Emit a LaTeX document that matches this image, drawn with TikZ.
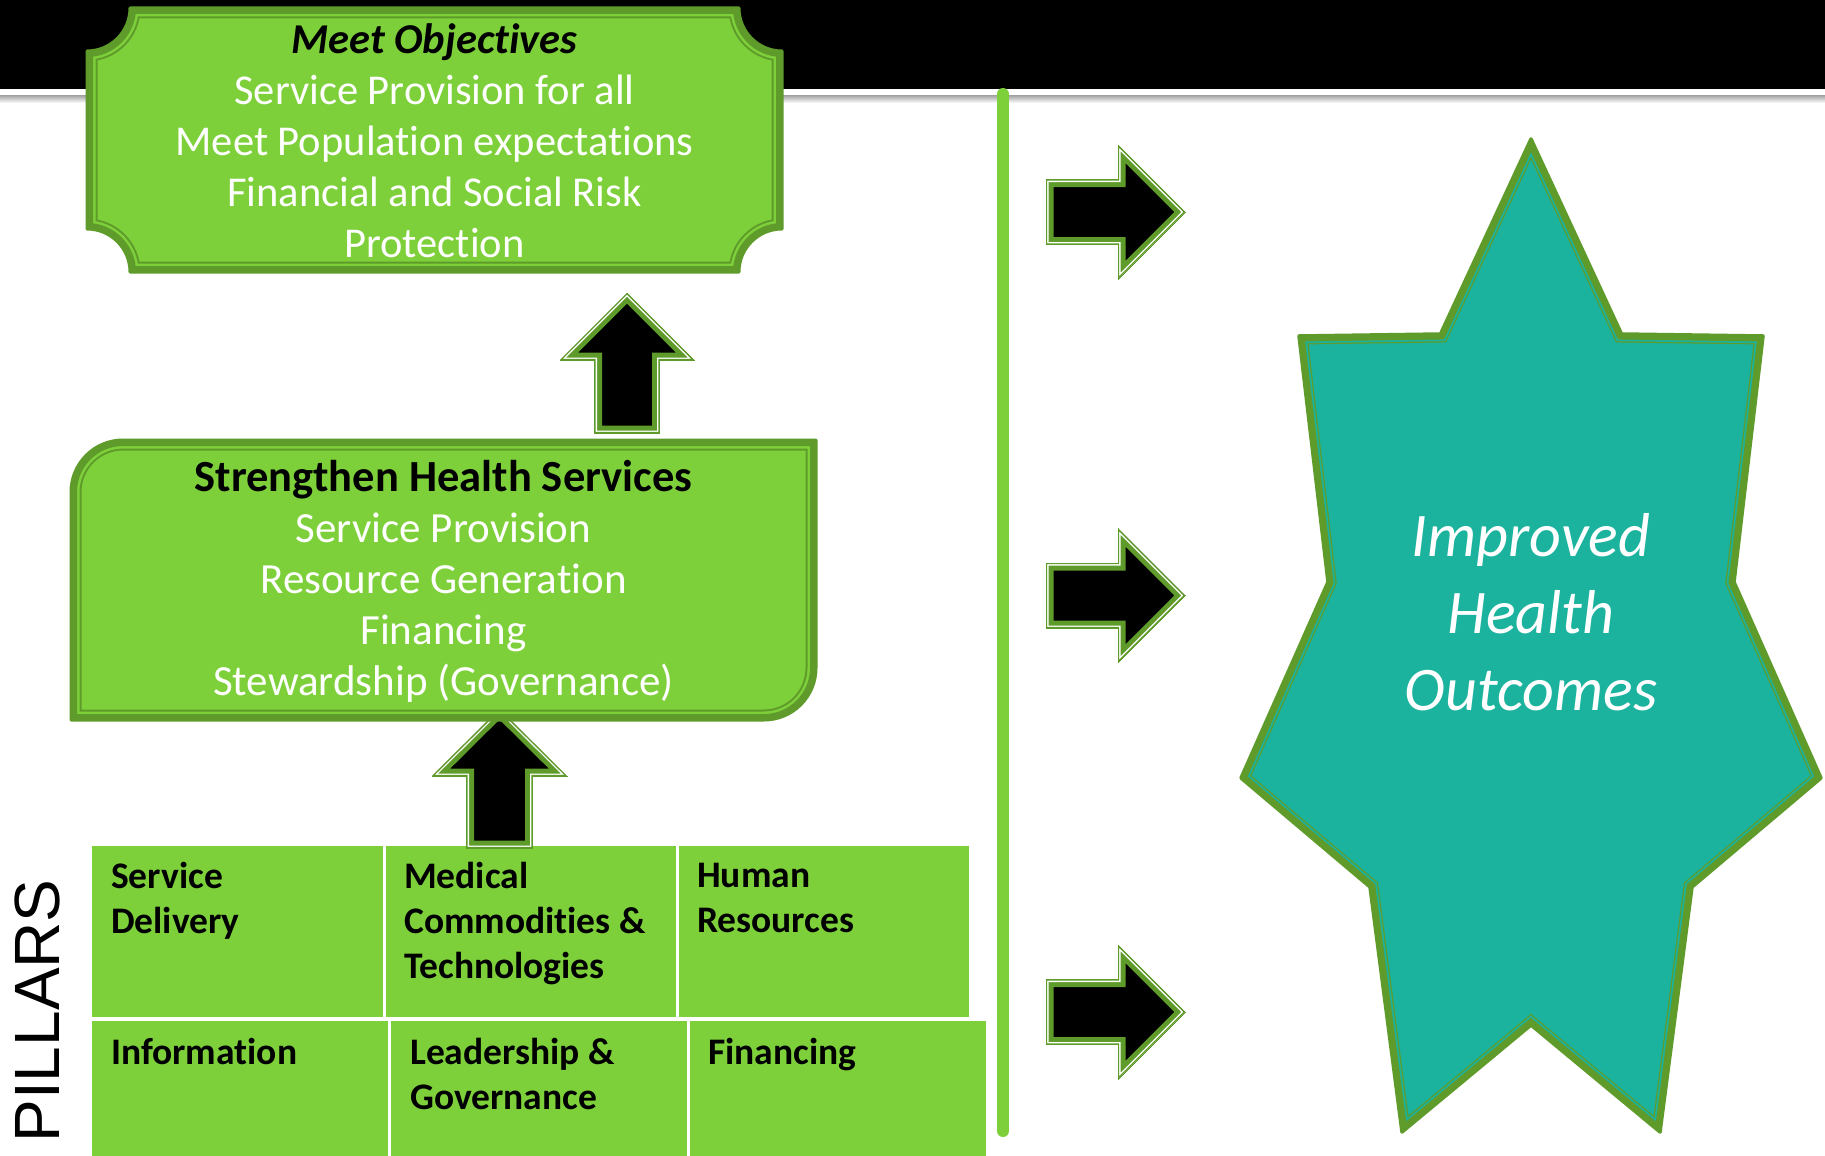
\documentclass[tikz,border=0pt]{standalone}
\usepackage{fontspec}
\setmainfont{Carlito}[Ligatures={NoCommon,NoContextual}]
\newfontfamily\pillarfont{Liberation Sans}
\definecolor{lg}{RGB}{126,208,59}
\definecolor{dg}{RGB}{95,155,42}
\definecolor{tealc}{RGB}{27,179,158}
\newcommand\layered[9]{%
  \fill[#1] #9;
  \begin{scope}
    \clip #9;
    \draw[#2,line width=#3,line join=miter] #9;
    \draw[#4,line width=#5,line join=miter] #9;
    \draw[#6,line width=#7,line join=miter] #9;
  \end{scope}
  \draw[#2,line width=#8,line join=round] #9;}
\newcommand\blockarrow[1]{\layered{black}{dg}{15pt}{white}{5pt}{dg}{2.4pt}{0pt}{#1}}
\newcommand\greenframe[1]{\layered{lg}{dg}{21pt}{lg}{17pt}{dg}{12pt}{3pt}{#1}}
\newcommand\tealframe[1]{\layered{tealc}{dg}{17pt}{tealc}{14.5pt}{dg}{11pt}{3.5pt}{#1}}
\begin{document}
\begin{tikzpicture}[x=1pt,y=-1pt,
  cell/.style={fill=lg, inner sep=0pt, anchor=north west},
  celltext/.style={anchor=north west, inner sep=0pt, align=left, text=black,
    font=\fontsize{37.5}{45}\selectfont\bfseries},
  boxtext/.style={inner sep=0pt, align=center, text=white},
  bar/.style={lg, line width=12pt, line cap=round}]
\useasboundingbox (0,0) rectangle (1825,1156);
\fill[white] (0,0) rectangle (1825,1156);
% title band
\fill[black] (0,0) rectangle (1825,89);
\shade[top color=gray!75, bottom color=white] (0,95) rectangle (1825,103);
% vertical divider
\coordinate (bartop) at (1003,94);
\coordinate (barbot) at (1003,1131);
\draw[bar] (bartop) -- (barbot);
% pillar cells
\node[cell, minimum width=291pt, minimum height=171pt] (c1) at (92,846) {};
\node[cell, minimum width=290pt, minimum height=171pt] (c2) at (386,846) {};
\node[cell, minimum width=290pt, minimum height=171pt] (c3) at (679,846) {};
\node[cell, minimum width=296pt, minimum height=135pt] (c4) at (92,1021) {};
\node[cell, minimum width=296pt, minimum height=135pt] (c5) at (391,1021) {};
\node[cell, minimum width=296pt, minimum height=135pt] (c6) at (690,1021) {};
\node[celltext] (t1) at ([shift={(19pt,-16pt)}]c1.north west) {Service\\Delivery};
\node[celltext] (t2) at ([shift={(18pt,-16pt)}]c2.north west) {Medical\\Commodities \&\\Technologies};
\node[celltext] (t3) at ([shift={(18pt,-17pt)}]c3.north west) {Human\\Resources};
\node[celltext] (t4) at ([shift={(19pt,-17pt)}]c4.north west) {Information};
\node[celltext] (t5) at ([shift={(19pt,-17pt)}]c5.north west) {Leadership \&\\Governance};
\node[celltext] (t6) at ([shift={(18pt,-17pt)}]c6.north west) {Financing};
\node[rotate=90, inner sep=0pt, font=\pillarfont\fontsize{64}{70}\selectfont] (pillars) at (37,1011) {PILLARS};
% lower up arrow
\blockarrow{(499.5,709) -- (567,776) -- (532.5,776) -- (532.5,848) -- (466.5,848) -- (466.5,776) -- (432,776) -- cycle}
% strengthen box
\greenframe{(71,720) -- (71,492) .. controls (71,463.3) and (94.3,440) .. (123,440) -- (816,440) -- (816,668) .. controls (816,696.7) and (792.7,720) .. (764,720) -- cycle}
\node[boxtext, font=\fontsize{43}{51}\selectfont] (shs) at (443.5,581)
  {{\color{black}\fontsize{44.5}{51}\selectfont\bfseries Strengthen Health Services}\\Service Provision\\Resource Generation\\Financing\\Stewardship (Governance)};
% upper up arrow
\blockarrow{(627,293) -- (694,360) -- (659.5,360) -- (659.5,433) -- (594.5,433) -- (594.5,360) -- (560,360) -- cycle}
% objectives box
\greenframe{(130,8) -- (739,8) .. controls (739,31.7) and (758.3,51) .. (782,51) -- (782,229) .. controls (758.3,229) and (739,248.3) .. (739,272) -- (130,272) .. controls (130,248.3) and (110.7,229) .. (87,229) -- (87,51) .. controls (110.7,51) and (130,31.7) .. (130,8) -- cycle}
\node[boxtext, font=\fontsize{42.5}{51}\selectfont] (obj) at (434.5,141)
  {{\color{black}\bfseries\itshape Meet Objectives}\\Service Provision for all\\Meet Population expectations\\Financial and Social Risk\\Protection};
% right arrows
\blockarrow{(1185,212) -- (1118,145) -- (1118,179.5) -- (1046,179.5) -- (1046,244.5) -- (1118,244.5) -- (1118,279) -- cycle}
\blockarrow{(1185,595.5) -- (1118,528.5) -- (1118,563) -- (1046,563) -- (1046,628) -- (1118,628) -- (1118,662.5) -- cycle}
\blockarrow{(1185,1012) -- (1118,945) -- (1118,979.5) -- (1046,979.5) -- (1046,1044.5) -- (1118,1044.5) -- (1118,1079) -- cycle}
% star
\tealframe{(1531,139) -- (1621.5,334) -- (1763,336) -- (1734,582) -- (1821,778) -- (1692,887) -- (1660,1132) -- (1531,1025) -- (1402,1132) -- (1370,887) -- (1241,778) -- (1328,582) -- (1299,336) -- (1440.5,334) -- cycle}
\node[boxtext, font=\fontsize{62}{77}\selectfont\itshape] (iho) at (1531,612) {Improved\\Health\\Outcomes};
\end{tikzpicture}
\end{document}
